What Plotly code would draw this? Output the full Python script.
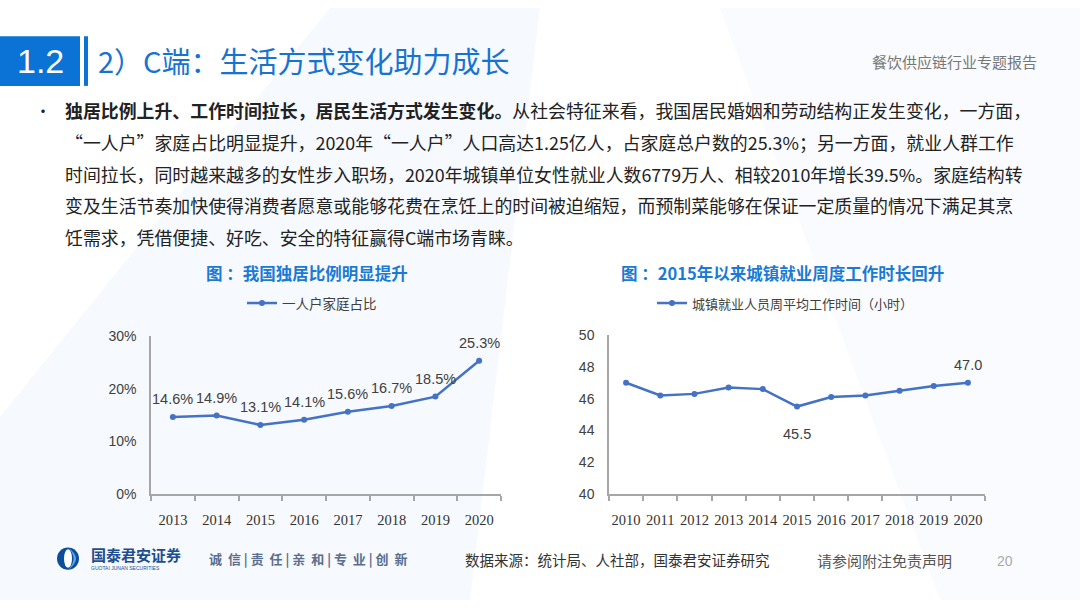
import plotly.graph_objects as go

# ---------------- data ----------------
years_left = ["2013", "2014", "2015", "2016", "2017", "2018", "2019", "2020"]
single_share = [14.6, 14.9, 13.1, 14.1, 15.6, 16.7, 18.5, 25.3]
single_labels = ["14.6%", "14.9%", "13.1%", "14.1%", "15.6%", "16.7%", "18.5%", "25.3%"]

years_right = ["2010", "2011", "2012", "2013", "2014", "2015", "2016", "2017", "2018", "2019", "2020"]
work_hours = [47.0, 46.2, 46.3, 46.7, 46.6, 45.5, 46.1, 46.2, 46.5, 46.8, 47.0]
work_labels = ["", "", "", "", "", "45.5", "", "", "", "", "47.0"]
work_label_shift = [0, 0, 0, 0, 0, -27, 0, 0, 0, 0, 18]

left_ticks = [0, 10, 20, 30]
left_ticktext = ["0%", "10%", "20%", "30%"]
right_ticks = [40, 42, 44, 46, 48, 50]

W, H = 1080, 608
def px(x): return x / W
def py(y): return 1 - y / H

CJK = "Noto Sans CJK SC"
SANS = "Liberation Sans"
SERIF = "Liberation Serif"
LINE = "#4472c4"
AX = "#a6a6a6"

fig = go.Figure()

fig.add_trace(go.Scatter(
    x=years_left, y=single_share, mode="lines+markers",
    line=dict(color=LINE, width=2.5), marker=dict(size=6, color=LINE),
    name="一人户家庭占比", xaxis="x", yaxis="y", showlegend=False, cliponaxis=False))

fig.add_trace(go.Scatter(
    x=years_right, y=work_hours, mode="lines+markers",
    line=dict(color=LINE, width=2.5), marker=dict(size=6, color=LINE),
    name="城镇就业人员周平均工作时间（小时）", xaxis="x2", yaxis="y2", showlegend=False, cliponaxis=False))

axis_common = dict(showgrid=False, zeroline=False, showline=True, linecolor=AX, linewidth=1.5)

fig.update_layout(
    width=W, height=H, margin=dict(l=0, r=0, t=0, b=0),
    paper_bgcolor="white", plot_bgcolor="rgba(0,0,0,0)",
    xaxis=dict(domain=[px(151), px(501)], anchor="y", type="category", range=[-0.5, 7.5],
               ticks="outside", tickson="boundaries", ticklen=5, tickcolor=AX, tickwidth=1.5,
               tickangle=0, tickfont=dict(family=SERIF, size=14.5, color="#333333"), ticklabelstandoff=12,
               **axis_common),
    yaxis=dict(domain=[py(499), py(337)], anchor="x", range=[0, 30], tickvals=left_ticks,
               ticktext=left_ticktext, ticks="", ticklabelstandoff=10,
               tickfont=dict(family=SANS, size=14, color="#404040"), **axis_common),
    xaxis2=dict(domain=[px(609), px(985)], anchor="y2", type="category", range=[-0.5, 10.5],
                ticks="outside", tickson="boundaries", ticklen=5, tickcolor=AX, tickwidth=1.5,
                tickangle=0, tickfont=dict(family=SERIF, size=14.5, color="#333333"), ticklabelstandoff=12,
                **axis_common),
    yaxis2=dict(domain=[py(499), py(336)], anchor="x2", range=[40, 50], tickvals=right_ticks,
                ticks="", ticklabelstandoff=10,
                tickfont=dict(family=SANS, size=14, color="#404040"), **axis_common),
)

shapes = []
# faint background tint
shapes.append(dict(type="path", xref="paper", yref="paper", layer="below",
                   path=f"M {px(330)},{py(0)} L {px(540)},{py(0)} L {px(470)},{py(608)} L {px(0)},{py(608)} L {px(0)},{py(420)} Z",
                   fillcolor="#f6f9fd", line=dict(width=0)))
shapes.append(dict(type="path", xref="paper", yref="paper", layer="below",
                   path=f"M {px(720)},{py(0)} L {px(1080)},{py(0)} L {px(1080)},{py(608)} L {px(940)},{py(608)} Z",
                   fillcolor="#f9fbfe", line=dict(width=0)))
# header box
shapes.append(dict(type="rect", xref="paper", yref="paper", x0=px(0), x1=px(80), y0=py(80), y1=py(29),
                   fillcolor="#0b73d6", line=dict(width=0)))
shapes.append(dict(type="rect", xref="paper", yref="paper", x0=px(84), x1=px(88), y0=py(80), y1=py(29),
                   fillcolor="#0b73d6", line=dict(width=0)))
# legend lines
for (x0, x1, y) in [(247, 277, 303), (657, 687, 303)]:
    shapes.append(dict(type="line", xref="paper", yref="paper", x0=px(x0), x1=px(x1), y0=py(y), y1=py(y),
                       line=dict(color=LINE, width=2.5)))
    cx = (x0 + x1) / 2
    shapes.append(dict(type="circle", xref="paper", yref="paper", x0=px(cx - 3), x1=px(cx + 3),
                       y0=py(y + 3), y1=py(y - 3), fillcolor=LINE, line=dict(width=0)))
# logo
shapes.append(dict(type="circle", xref="paper", yref="paper", x0=px(57), x1=px(79), y0=py(577), y1=py(554),
                   fillcolor="#0d4d9a", line=dict(width=0)))
shapes.append(dict(type="path", xref="paper", yref="paper",
                   path=f"M {px(68)},{py(554)} Q {px(84)},{py(565.5)} {px(68)},{py(577)} Q {px(79)},{py(565.5)} {px(68)},{py(554)} Z",
                   fillcolor="#5aa7e6", line=dict(width=0)))
shapes.append(dict(type="circle", xref="paper", yref="paper", x0=px(64), x1=px(72), y0=py(575), y1=py(556),
                   fillcolor="white", line=dict(width=0)))
fig.update_layout(shapes=shapes)

ann = []
def T(x, y, text, size, color, family=CJK, xanchor="left", bold=False):
    ann.append(dict(xref="paper", yref="paper", x=px(x), y=py(y), text=(f"<b>{text}</b>" if bold else text),
                    showarrow=False, xanchor=xanchor, yanchor="middle",
                    font=dict(family=family, size=size, color=color)))

# data labels (category index positions)
for i, (yv, lab) in enumerate(zip(single_share, single_labels)):
    ann.append(dict(xref="x", yref="y", x=i, y=yv, text=lab, showarrow=False, yshift=18,
                    xanchor="center", yanchor="middle", font=dict(family=SANS, size=14.5, color="#404040")))
for i, (yv, lab, sh) in enumerate(zip(work_hours, work_labels, work_label_shift)):
    if lab:
        ann.append(dict(xref="x2", yref="y2", x=i, y=yv, text=lab, showarrow=False, yshift=sh,
                        xanchor="center", yanchor="middle", font=dict(family=SANS, size=14.5, color="#404040")))

# header
T(40, 54, "1.2", 34, "white", family=SANS, xanchor="center")
T(96, 53, "2）C端：生活方式变化助力成长", 29, "#1673d1")
T(1039, 55, "餐饮供应链行业专题报告", 15, "#777777", xanchor="right")

# paragraph
T(33, 105, "•", 16, "#222222")
lines = [
    "<b>独居比例上升、工作时间拉长，居民生活方式发生变化。</b>从社会特征来看，我国居民婚姻和劳动结构正发生变化，一方面，",
    "“一人户”家庭占比明显提升，2020年“一人户”人口高达1.25亿人，占家庭总户数的25.3%；另一方面，就业人群工作",
    "时间拉长，同时越来越多的女性步入职场，2020年城镇单位女性就业人数6779万人、相较2010年增长39.5%。家庭结构转",
    "变及生活节奏加快使得消费者愿意或能够花费在烹饪上的时间被迫缩短，而预制菜能够在保证一定质量的情况下满足其烹",
    "饪需求，凭借便捷、好吃、安全的特征赢得C端市场青睐。",
]
for ln, y in zip(lines, [105, 137.5, 170, 202.5, 235]):
    T(63, y, ln, 17.9, "#222222")

# chart titles
T(307, 272, "图 ：我国独居比例明显提升", 16.5, "#1a7ad4", xanchor="center", bold=True)
T(782, 272, "图 ：2015年以来城镇就业周度工作时长回升", 16.5, "#1a7ad4", xanchor="center", bold=True)

# legends
T(280, 303, "一人户家庭占比", 13.5, "#404040")
T(690, 303, "城镇就业人员周平均工作时间（小时）", 13, "#404040")

# footer
T(89, 561, "国泰君安证券", 15, "#1d4e8f", bold=True)
T(89, 575, "GUOTAI JUNAN SECURITIES", 5, "#1d4e8f", family=SANS)
T(207, 565, "诚  信 | 责  任 | 亲  和 | 专  业 | 创  新", 13, "#5a6f8f", bold=True)
T(463, 566, "数据来源：统计局、人社部，国泰君安证券研究", 14.5, "#333333")
T(815, 567, "请参阅附注免责声明", 15, "#555555")
T(1005, 568, "20", 14, "#aaaaaa", family=SANS, xanchor="center")

fig.update_layout(annotations=ann)

fig.write_html("out.html", config={"displayModeBar": False},
               post_script="document.body.style.margin='0';document.body.style.overflow='hidden';")
